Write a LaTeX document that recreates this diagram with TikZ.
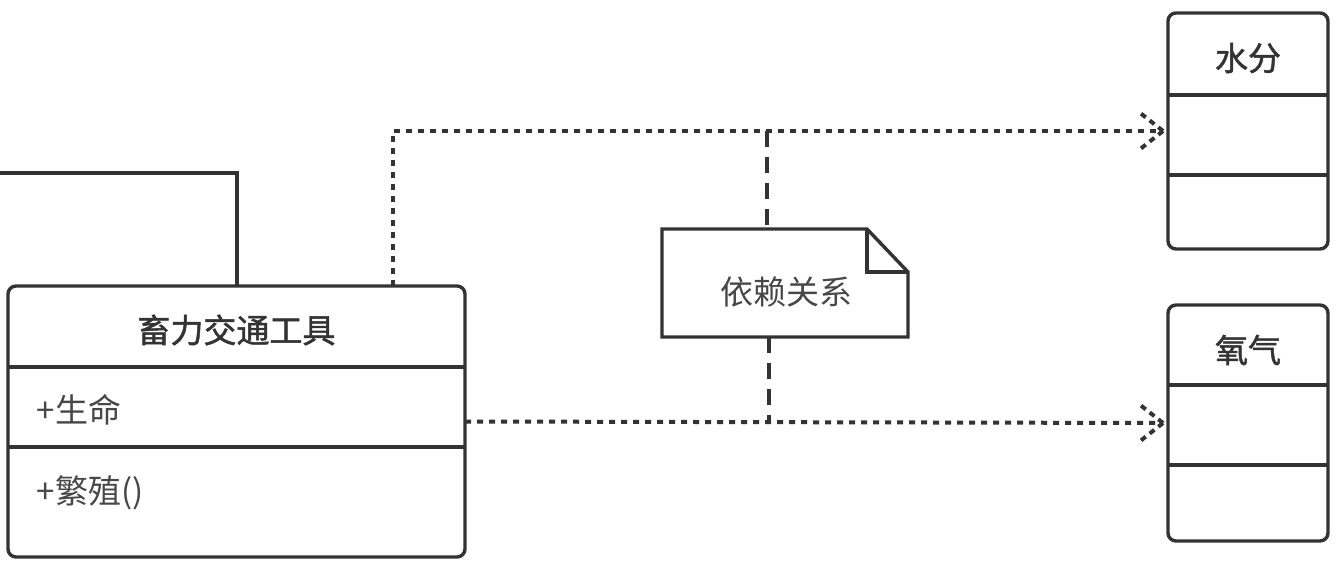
\documentclass[tikz,border=0pt]{standalone}
\usepackage{fontspec}
\setmainfont{Noto Sans CJK SC}
\newfontfamily\medfont[FakeBold=1.5]{Noto Sans CJK SC}
\usetikzlibrary{calc}
\definecolor{ink}{RGB}{51,51,51}
\begin{document}
\begin{tikzpicture}[x=1pt,y=-1pt,line width=3.4pt,
  classbox/.style={draw=ink,rounded corners=8pt,outer sep=0pt,inner sep=0pt,anchor=north west},
  divider/.style={draw=ink},
  titletxt/.style={text=ink,font=\fontsize{33}{36}\medfont,inner sep=0pt},
  bodytxt/.style={text=ink!90,font=\fontsize{33}{36}\selectfont,inner sep=0pt},
  dep/.style={draw=ink,line width=4pt,dash pattern=on 6pt off 6pt},
  barb/.style={draw=ink,line width=4pt,dash pattern=on 6pt off 5pt},
  notelink/.style={draw=ink,line width=3.6pt,dash pattern=on 16pt off 10pt},
  solidline/.style={draw=ink}]
\useasboundingbox (0,0) rectangle (1336,560);
\fill[white] (0,0) rectangle (1336,560);

% main class
\node[classbox,minimum width=457pt,minimum height=271pt] (animal) at (8,286) {};
\draw[divider] (8,367) -- (465,367);
\draw[divider] (8,447) -- (465,447);
\node[titletxt] (animalT) at (236.5,330) {畜力交通工具};
\node[bodytxt,anchor=west] (animalA) at (35,410) {+生命};
\node[bodytxt,anchor=west] (animalM) at (35,493) {+繁殖()};

% water class
\node[classbox,minimum width=160pt,minimum height=236pt] (water) at (1168,13) {};
\draw[divider] (1168,95) -- (1328,95);
\draw[divider] (1168,175) -- (1328,175);
\node[titletxt] (waterT) at (1248,58) {水分};

% oxygen class
\node[classbox,minimum width=160pt,minimum height=236pt] (oxygen) at (1168,305) {};
\draw[divider] (1168,385) -- (1328,385);
\draw[divider] (1168,465) -- (1328,465);
\node[titletxt] (oxygenT) at (1248,350) {氧气};

% inheritance line from the left
\coordinate (leftend) at (0,173);
\draw[solidline] (leftend) -| ($(animal.north west)+(229,0)$);

% dependency to water
\coordinate (wtip) at ($(water.west)+(-5,0)$);
\draw[dep] ($(animal.north west)+(385,0)$) |- (wtip);
\draw[barb] (wtip) -- ++(-24,-19);
\draw[barb] (wtip) -- ++(-24,19);

% dependency to oxygen
\coordinate (otip) at ($(oxygen.west)+(-5,0)$);
\draw[dep] (animal.east) -- (otip);
\draw[barb] (otip) -- ++(-24,-19);
\draw[barb] (otip) -- ++(-24,19);

% note
\node[minimum width=246pt,minimum height=108pt,inner sep=0pt,outer sep=0pt] (note) at (785,283) {};
\draw[draw=ink,line join=miter] (note.north west) -- ($(note.north east)+(-41,0)$) -- ($(note.north east)+(0,43)$) -- (note.south east) -- (note.south west) -- cycle;
\draw[draw=ink] ($(note.north east)+(-41,0)$) -- ($(note.north east)+(-41,43)$) -- ($(note.north east)+(0,43)$);
\node[bodytxt] (noteT) at (786,292) {依赖关系};
\coordinate (ntop) at (767,131);
\coordinate (nbot) at (769,422);
\draw[notelink] (ntop) -- (note.north west -| ntop);
\draw[notelink] (note.south west -| nbot) -- (nbot);
\end{tikzpicture}
\end{document}
